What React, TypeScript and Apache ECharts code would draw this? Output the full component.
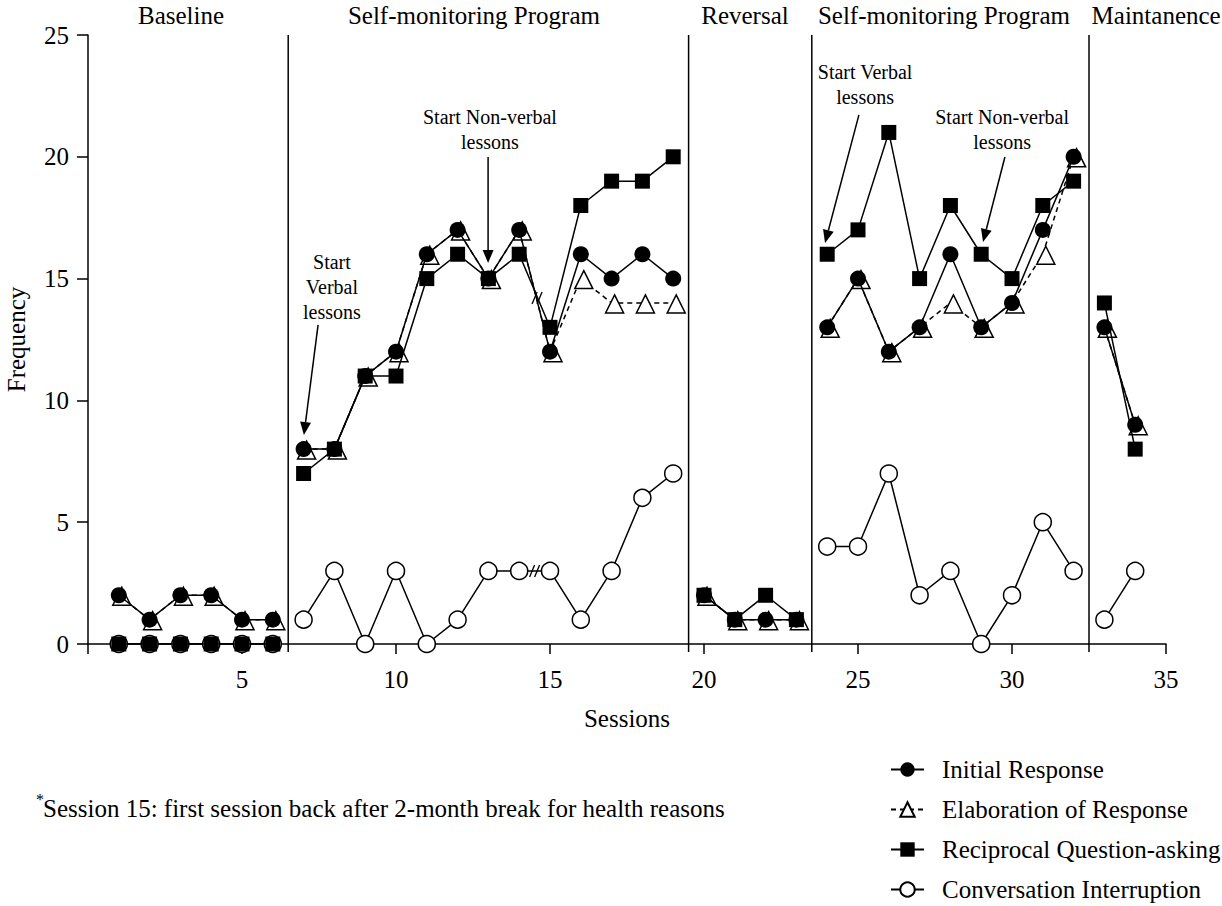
import React, { useEffect, useRef } from "react";
import * as echarts from "echarts";

const FONT = '"Liberation Serif", "Times New Roman", serif';

// Sessions for each phase
const baselineSessions = [1, 2, 3, 4, 5, 6];
const sm1Sessions = [7, 8, 9, 10, 11, 12, 13, 14, 15, 16, 17, 18, 19];
const reversalSessions = [20, 21, 22, 23];
const sm2Sessions = [24, 25, 26, 27, 28, 29, 30, 31, 32];
const maintSessions = [33, 34];
const phaseSessions = [baselineSessions, sm1Sessions, reversalSessions, sm2Sessions, maintSessions];

// Values per phase
const initialResponse = [
  [2, 1, 2, 2, 1, 1],
  [8, 8, 11, 12, 16, 17, 15, 17, 12, 16, 15, 16, 15],
  [2, 1, 1, 1],
  [13, 15, 12, 13, 16, 13, 14, 17, 20],
  [13, 9],
];
const elaboration = [
  [2, 1, 2, 2, 1, 1],
  [8, 8, 11, 12, 16, 17, 15, 17, 12, 15, 14, 14, 14],
  [2, 1, 1, 1],
  [13, 15, 12, 13, 14, 13, 14, 16, 20],
  [13, 9],
];
const reciprocal = [
  [0, 0, 0, 0, 0, 0],
  [7, 8, 11, 11, 15, 16, 15, 16, 13, 18, 19, 19, 20],
  [2, 1, 2, 1],
  [16, 17, 21, 15, 18, 16, 15, 18, 19],
  [14, 8],
];
const interruption = [
  [0, 0, 0, 0, 0, 0],
  [1, 3, 0, 3, 0, 1, 3, 3, 3, 1, 3, 6, 7],
  [],
  [4, 4, 7, 2, 3, 0, 2, 5, 3],
  [1, 3],
];

// Phase change lines (session units)
const phaseBreaks = [6.5, 19.5, 23.5, 32.5];
// Phase titles and their centre (session units)
const phaseTitles = ["Baseline", "Self-monitoring Program", "Reversal", "Self-monitoring Program", "Maintanence"];
const phaseTitleX = [3.02, 12.53, 21.33, 27.79, 34.68];
const phaseTitleY = 25.78;

// Axis ticks
const xTicks = { min: 0, max: 35, interval: 5 };
const yTicks = { min: 0, max: 25, interval: 5 };

// Break marks "//"
const breakMarks = [
  [14.5, 3],
  [14.58, 14.2],
];

// Annotations: text, text centre, arrow start, arrow tip (data units)
const annTexts = ["Start\nVerbal\nlessons", "Start Non-verbal\nlessons", "Start Verbal\nlessons", "Start Non-verbal\nlessons"];
const annTextPos = [
  [7.92, 14.66],
  [13.05, 21.12],
  [25.23, 22.97],
  [29.68, 21.12],
];
const annArrowFrom = [
  [7.47, 13.1],
  [12.99, 19.99],
  [25.03, 21.72],
  [29.77, 19.99],
];
const annArrowTo = [
  [7.01, 8.58],
  [12.99, 15.64],
  [23.93, 16.46],
  [29.06, 16.5],
];

const seriesNames = ["Initial Response", "Elaboration of Response", "Reciprocal Question-asking", "Conversation Interruption"];

function buildLine(name: string, values: number[][], opts: any) {
  const out: any[] = [];
  values.forEach((vals, i) => {
    if (!vals.length) return;
    out.push({
      type: "line",
      name,
      data: phaseSessions[i].map((s, j) => [s, vals[j]]),
      silent: true,
      ...opts,
    });
  });
  return out;
}

export default function App() {
  const ref = useRef<HTMLDivElement>(null);
  useEffect(() => {
    if (!ref.current) return;
    const chart = echarts.init(ref.current, null, { renderer: "svg" });

    const series: any[] = [
      ...buildLine(seriesNames[1], elaboration, {
        symbol: "triangle",
        symbolSize: 18,
        symbolOffset: [3, 1],
        itemStyle: { color: "#fff", borderColor: "#000", borderWidth: 1.5 },
        lineStyle: { color: "#000", width: 1.5, type: [5, 4] },
        z: 2,
      }),
      ...buildLine(seriesNames[3], interruption, {
        symbol: "circle",
        symbolSize: 17,
        itemStyle: { color: "#fff", borderColor: "#000", borderWidth: 1.5 },
        lineStyle: { color: "#000", width: 1.5 },
        z: 3,
      }),
      ...buildLine(seriesNames[0], initialResponse, {
        symbol: "circle",
        symbolSize: 16,
        itemStyle: { color: "#000", borderColor: "#000", borderWidth: 0 },
        lineStyle: { color: "#000", width: 1.5 },
        z: 4,
      }),
      ...buildLine(seriesNames[2], reciprocal, {
        symbol: "rect",
        symbolSize: 15,
        itemStyle: { color: "#000", borderColor: "#000", borderWidth: 0 },
        lineStyle: { color: "#000", width: 1.5 },
        z: 5,
      }),
      {
        type: "custom",
        coordinateSystem: "cartesian2d",
        silent: true,
        clip: false,
        z: 1,
        data: phaseBreaks.map((x) => [x, 0]),
        renderItem: (params: any, api: any) => {
          const x = api.value(0);
          const top = api.coord([x, yTicks.max]);
          const bot = api.coord([x, yTicks.min]);
          return {
            type: "line",
            shape: { x1: top[0], y1: top[1], x2: bot[0], y2: bot[1] + 8 },
            style: { stroke: "#000", lineWidth: 1.5 },
          };
        },
      },
      {
        type: "custom",
        coordinateSystem: "cartesian2d",
        silent: true,
        clip: false,
        z: 1,
        data: phaseTitleX.map((x) => [x, phaseTitleY]),
        renderItem: (params: any, api: any) => {
          const p = api.coord([api.value(0), api.value(1)]);
          return {
            type: "text",
            style: {
              text: phaseTitles[params.dataIndex],
              x: p[0],
              y: p[1],
              align: "center",
              verticalAlign: "middle",
              font: `25px ${FONT}`,
              fill: "#000",
            },
          };
        },
      },
      {
        type: "custom",
        coordinateSystem: "cartesian2d",
        silent: true,
        clip: false,
        z: 6,
        data: breakMarks,
        renderItem: (params: any, api: any) => {
          const p = api.coord([api.value(0), api.value(1)]);
          const mk = (dx: number) => ({
            type: "line",
            shape: { x1: p[0] + dx - 2.5, y1: p[1] + 6, x2: p[0] + dx + 2.5, y2: p[1] - 6 },
            style: { stroke: "#000", lineWidth: 1.3 },
          });
          return { type: "group", children: [mk(-2.5), mk(2.5)] };
        },
      },
      {
        type: "custom",
        coordinateSystem: "cartesian2d",
        silent: true,
        clip: false,
        z: 6,
        data: annTextPos,
        renderItem: (params: any, api: any) => {
          const i = params.dataIndex;
          const t = api.coord(annTextPos[i]);
          const a = api.coord(annArrowFrom[i]);
          const b = api.coord(annArrowTo[i]);
          const dx = b[0] - a[0];
          const dy = b[1] - a[1];
          const len = Math.sqrt(dx * dx + dy * dy);
          const ux = dx / len;
          const uy = dy / len;
          const hl = 13;
          const hw = 5.5;
          const bx = b[0] - ux * hl;
          const by = b[1] - uy * hl;
          return {
            type: "group",
            children: [
              {
                type: "text",
                style: {
                  text: annTexts[i],
                  x: t[0],
                  y: t[1],
                  align: "center",
                  verticalAlign: "middle",
                  font: `20px ${FONT}`,
                  lineHeight: 25,
                  fill: "#000",
                },
              },
              {
                type: "line",
                shape: { x1: a[0], y1: a[1], x2: bx, y2: by },
                style: { stroke: "#000", lineWidth: 1.5 },
              },
              {
                type: "polygon",
                shape: {
                  points: [
                    [b[0], b[1]],
                    [bx - uy * hw, by + ux * hw],
                    [bx + uy * hw, by - ux * hw],
                  ],
                },
                style: { fill: "#000" },
              },
            ],
          };
        },
      },
    ];

    chart.setOption({
      animation: false,
      backgroundColor: "#fff",
      textStyle: { fontFamily: FONT, color: "#000" },
      grid: { left: 88, right: 56, top: 35, bottom: 262, containLabel: false, outerBoundsMode: "none" },
      xAxis: {
        type: "value",
        min: xTicks.min,
        max: xTicks.max,
        interval: xTicks.interval,
        offset: 8,
        name: "Sessions",
        nameLocation: "middle",
        nameGap: 54,
        nameTextStyle: { fontSize: 25, fontFamily: FONT, color: "#000" },
        axisLine: { show: true, lineStyle: { color: "#000", width: 1.5 } },
        axisTick: { show: true, length: 10, lineStyle: { color: "#000", width: 1.5 } },
        axisLabel: {
          fontSize: 25,
          fontFamily: FONT,
          color: "#000",
          margin: 15,
          formatter: (v: number) => (v === 0 ? "" : String(v)),
        },
        splitLine: { show: false },
      },
      yAxis: {
        type: "value",
        min: yTicks.min,
        max: yTicks.max,
        interval: yTicks.interval,
        offset: 5,
        name: "Frequency",
        nameLocation: "middle",
        nameGap: 54,
        nameRotate: 90,
        nameTextStyle: { fontSize: 25, fontFamily: FONT, color: "#000" },
        axisLine: { show: true, lineStyle: { color: "#000", width: 1.5 } },
        axisTick: { show: true, length: 11, lineStyle: { color: "#000", width: 1.5 } },
        axisLabel: { fontSize: 25, fontFamily: FONT, color: "#000", margin: 14 },
        splitLine: { show: false },
      },
      legend: {
        show: true,
        type: "plain",
        orient: "vertical",
        left: 890,
        top: 757,
        padding: 0,
        height: 148,
        itemWidth: 33,
        itemHeight: 18,
        itemGap: 15,
        selectedMode: false,
        data: seriesNames,
        textStyle: { fontSize: 25, fontFamily: FONT, color: "#000", padding: [0, 0, 0, 13] },
      },
      graphic: [
        {
          type: "text",
          left: 36,
          top: 791,
          style: { text: "*", font: `16px ${FONT}`, fill: "#000" },
        },
        {
          type: "text",
          left: 43,
          top: 796,
          style: {
            text: "Session 15: first session back after 2-month break for health reasons",
            font: `25px ${FONT}`,
            fill: "#000",
          },
        },
      ],
      series,
    });

    return () => chart.dispose();
  }, []);

  return (
    <div
      ref={ref}
      style={{ position: "fixed", left: 0, top: 0, width: 1222, height: 906, background: "#fff" }}
    />
  );
}
